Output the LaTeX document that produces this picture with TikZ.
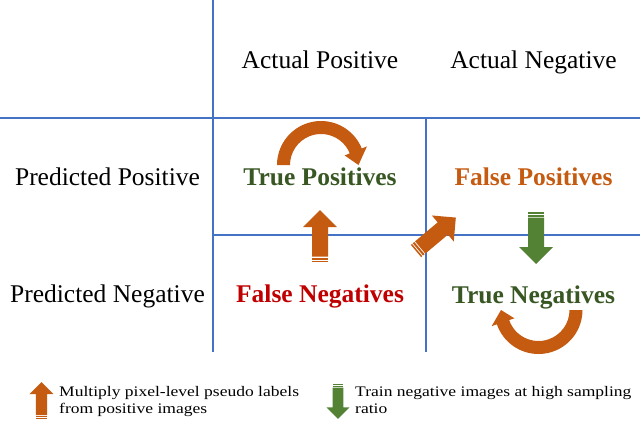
\documentclass[tikz,border=0pt]{standalone}
\usepackage{fontspec}
\setmainfont{Liberation Serif}
\definecolor{gridblue}{RGB}{68,114,196}
\definecolor{tporange}{RGB}{197,90,17}
\definecolor{tgreen}{RGB}{56,87,35}
\definecolor{fnred}{RGB}{192,0,0}
\definecolor{agreen}{RGB}{84,130,53}
\tikzset{
  grid line/.style={draw=gridblue, line width=1.2pt},
  head label/.style={anchor=base, inner sep=0pt, font=\fontsize{25.5}{30}\selectfont},
  cell label/.style={anchor=base, inner sep=0pt, font=\fontsize{25.5}{30}\selectfont\bfseries},
  legend text/.style={anchor=base west, inner sep=0pt, font=\fontsize{14.6}{17}\selectfont},
  pics/sarrow/.style={code={
    \path[pic actions] (0,-8) rectangle (1.5,8);
    \path[pic actions] (2.5,-8) rectangle (4.5,8);
    \path[pic actions] (5.5,-8) -- (35,-8) -- (35,-17) -- (52,0) -- (35,17) -- (35,8) -- (5.5,8) -- cycle;
  }}
}
\begin{document}
\begin{tikzpicture}[x=1pt,y=-1pt]
\useasboundingbox (0,0) rectangle (640,421);
% grid
\draw[grid line] (213,0) -- (213,352);
\draw[grid line] (0,118) -- (640,118);
\draw[grid line] (426,118) -- (426,352);
\draw[grid line] (213,235) -- (640,235);
% headers
\node[head label] (ap) at (320,68) {Actual Positive};
\node[head label] (an) at (533.5,68) {Actual Negative};
\node[head label] (pp) at (107.5,185) {Predicted Positive};
\node[head label] (pn) at (107.5,302) {Predicted Negative};
% cells
\node[cell label, text=tgreen] (tp) at (320,185) {True Positives};
\node[cell label, text=tporange] (fp) at (533.5,185) {False Positives};
\node[cell label, text=fnred] (fn) at (320,302) {False Negatives};
\node[cell label, text=tgreen] (tn) at (533.5,303) {True Negatives};
% straight striped arrows
\pic[fill=tporange, rotate=90] at (320,262) {sarrow};
\pic[fill=tporange, rotate=40] at (416,251) {sarrow};
\pic[fill=agreen, rotate=-90] at (536,212) {sarrow};
% circular arrow above True Positives
\begin{scope}[shift={(321,165)}]
\fill[tporange] (180:44pt) arc[start angle=180, end angle=22, radius=44pt]
  -- (22:49.5pt) -- (0:37.5pt) -- (22:25.5pt) -- (22:31pt)
  arc[start angle=22, end angle=180, radius=31pt] -- cycle;
\end{scope}
% circular arrow below True Negatives
\begin{scope}[shift={(538.5,310)}]
\fill[tporange] (0:44pt) arc[start angle=0, end angle=-161, radius=44pt]
  -- (-161:49.5pt) -- (-180:37.5pt) -- (-161:25.5pt) -- (-161:31pt)
  arc[start angle=-161, end angle=0, radius=31pt] -- cycle;
\end{scope}
% legend
\pic[fill=tporange, rotate=90, scale=0.71] at (41.5,419) {sarrow};
\node[legend text] (la1) at (59,396) {\scalebox{1.2}[1]{Multiply pixel-level pseudo labels}};
\node[legend text] (la2) at (59,413) {\scalebox{1.2}[1]{from positive images}};
\pic[fill=agreen, rotate=-90, scale=0.67] at (338,384) {sarrow};
\node[legend text] (lb1) at (355,396) {\scalebox{1.2}[1]{Train negative images at high sampling}};
\node[legend text] (lb2) at (355,413) {\scalebox{1.2}[1]{ratio}};
\end{tikzpicture}
\end{document}
